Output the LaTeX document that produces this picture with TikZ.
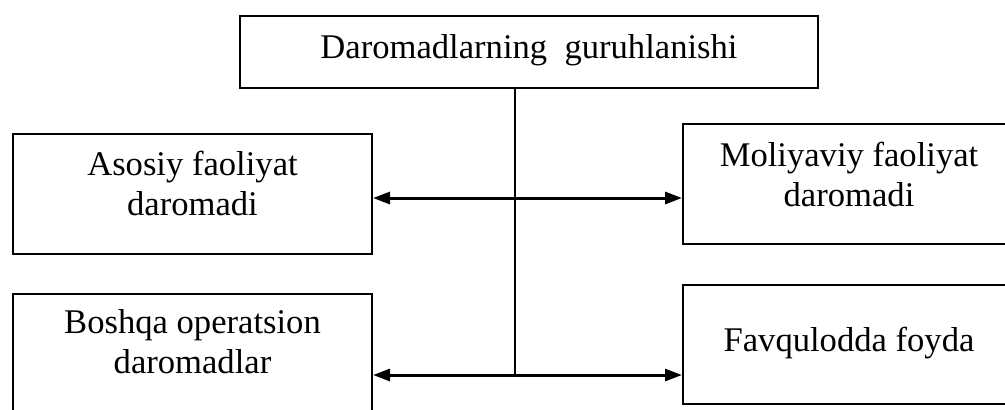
\documentclass[tikz,border=0pt]{standalone}
\usepackage{fontspec}
\setmainfont{Liberation Serif}
\usetikzlibrary{arrows.meta}

\begin{document}
\begin{tikzpicture}[x=0.5pt, y=-0.5pt,
  >={Triangle[length=8.5pt,width=6pt]},
  box/.style={draw, line width=1pt, anchor=north west, align=center,
    inner ysep=0pt, font=\fontsize{17.3}{20}\selectfont}]
\useasboundingbox (0,0) rectangle (1005,409);

\node[box, minimum width=289pt, text height=21pt, text depth=15pt] (top) at (239,15) {Daromadlarning~ guruhlanishi};

\node[box, minimum width=179.5pt, text height=40.5pt, text depth=19.5pt] (asosiy) at (12,133) {Asosiy faoliyat\\daromadi};
\node[box, minimum width=166pt, text height=41pt, text depth=19pt] (moliya) at (682,123) {Moliyaviy faoliyat\\daromadi};
\node[box, minimum width=179.5pt, text height=39.5pt, text depth=20.5pt] (boshqa) at (12,293) {Boshqa operatsion\\daromadlar};
\node[box, minimum width=166pt, text height=33pt, text depth=26.5pt] (favq) at (682,284) {Favqulodda foyda};

\coordinate (j1) at (515,198);
\coordinate (j2) at (515,375);

\draw[line width=1pt] (top.south -| j1) -- (j2);
\draw[<->, line width=1.5pt] (asosiy.east |- j1) -- (moliya.west |- j1);
\draw[<->, line width=1.5pt] (boshqa.east |- j2) -- (favq.west |- j2);
\end{tikzpicture}
\end{document}
